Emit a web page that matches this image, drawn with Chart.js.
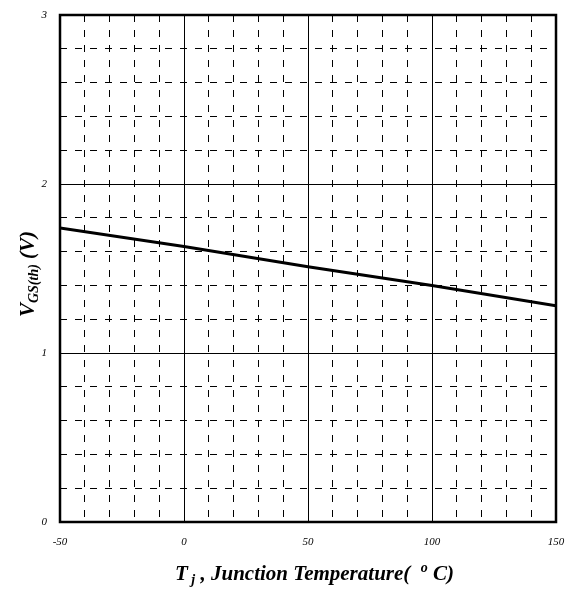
<!DOCTYPE html>
<html><head><meta charset="utf-8">
<script src="https://cdn.jsdelivr.net/npm/chart.js@4"></script>
<style>html,body{margin:0;padding:0;background:#fff}</style>
</head><body>
<canvas id="c" width="574" height="589" style="display:block;width:574px;height:589px"></canvas>
<script>
const temperatures = [-50, 0, 50, 100, 150];
const vgsth = [1.74, 1.63, 1.51, 1.40, 1.28];
const xTickLabels = ['-50', '0', '50', '100', '150'];
const yTickLabels = ['0', '1', '2', '3'];

const SERIF = '"Liberation Serif", "Times New Roman", serif';

function drawPieces(ctx, pieces, x, y, centered) {
  let total = 0;
  pieces.forEach(p => { ctx.font = p.font; p.w = ctx.measureText(p.t).width; total += p.w; });
  if (centered) x -= total / 2;
  pieces.forEach(p => { ctx.font = p.font; ctx.fillText(p.t, x, y + (p.dy || 0)); x += p.w; });
}

const titlesPlugin = {
  id: 'titles',
  afterDraw(chart) {
    const ctx = chart.ctx;
    const a = chart.chartArea;
    ctx.save();
    ctx.strokeStyle = '#000';
    ctx.lineWidth = 2.5;
    ctx.strokeRect(a.left, a.top, a.right - a.left, a.bottom - a.top);
    ctx.fillStyle = '#000';
    ctx.textBaseline = 'alphabetic';
    ctx.textAlign = 'left';
    const big = 'bold italic 21px ' + SERIF;
    const small = 'bold italic 14px ' + SERIF;
    drawPieces(ctx, [
      {t: 'T', font: big},
      {t: ' j', font: small, dy: 4},
      {t: ' , Junction Temperature(  ', font: big},
      {t: 'o', font: small, dy: -8},
      {t: ' C)', font: big}
    ], 175, 580, false);
    ctx.translate(34, 274);
    ctx.rotate(-Math.PI / 2);
    drawPieces(ctx, [
      {t: 'V', font: 'bold italic 21px ' + SERIF},
      {t: 'GS(th)', font: 'bold italic 14px ' + SERIF, dy: 4},
      {t: ' (V)', font: 'bold italic 21px ' + SERIF}
    ], 0, 0, true);
    ctx.restore();
  }
};

const tickFont = {family: SERIF, size: 11, style: 'italic'};
const clear = 'rgba(0,0,0,0)';

new Chart(document.getElementById('c'), {
  type: 'line',
  data: {
    datasets: [{
      data: temperatures.map((t, i) => ({x: t, y: vgsth[i]})),
      borderColor: '#000',
      borderWidth: 3,
      pointRadius: 0,
      tension: 0,
      fill: false
    }]
  },
  options: {
    responsive: false,
    animation: false,
    events: [],
    layout: {padding: {left: 0, top: 15, right: 18, bottom: 0}},
    plugins: {legend: {display: false}, tooltip: {enabled: false}},
    scales: {
      x: {
        type: 'linear', position: 'bottom', min: -50, max: 150,
        ticks: {stepSize: 10, autoSkip: false, maxRotation: 0, padding: 0, color: '#000', font: tickFont,
          callback: v => { const s = String(v); return xTickLabels.includes(s) ? s : ''; }},
        grid: {color: '#000', lineWidth: 1, drawTicks: true, tickLength: 14, tickColor: clear},
        border: {display: false, dash: [7, 8]},
        afterFit: s => { s.height = 67; }
      },
      x2: {
        type: 'linear', position: 'bottom', min: -50, max: 150,
        ticks: {display: false, stepSize: 50, autoSkip: false, padding: 0},
        grid: {color: '#000', lineWidth: 1, drawTicks: false},
        border: {display: false},
        afterFit: s => { s.height = 0; }
      },
      y: {
        type: 'linear', position: 'left', min: 0, max: 3,
        ticks: {stepSize: 0.2, autoSkip: false, padding: 0, color: '#000', font: tickFont,
          callback: v => { const s = String(v); return yTickLabels.includes(s) ? s : ''; }},
        grid: {color: '#000', lineWidth: 1, drawTicks: true, tickLength: 13, tickColor: clear},
        border: {display: false, dash: [7, 8]},
        afterFit: s => { s.width = 60; }
      },
      y2: {
        type: 'linear', position: 'left', min: 0, max: 3,
        ticks: {display: false, stepSize: 1, autoSkip: false, padding: 0},
        grid: {color: '#000', lineWidth: 1, drawTicks: false},
        border: {display: false},
        afterFit: s => { s.width = 0; }
      }
    }
  },
  plugins: [titlesPlugin]
});
</script>
</body></html>
